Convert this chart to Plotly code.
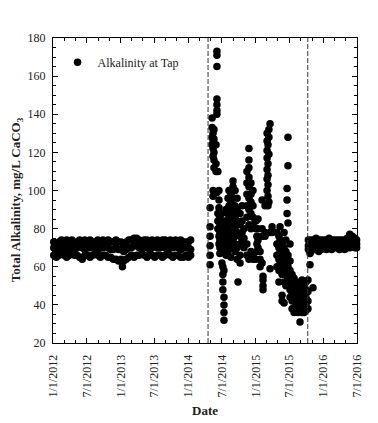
import plotly.graph_objects as go

# ---------------- data ----------------
# Period 1 (before first dashed line): sampling dates and readings (low / mid / high of the band)
p1_dates = ["2012-01-05","2012-01-19","2012-02-02","2012-02-16","2012-03-01","2012-03-15","2012-03-29",
            "2012-04-12","2012-04-26","2012-05-10","2012-05-24","2012-06-07","2012-06-21","2012-07-05",
            "2012-07-19","2012-08-02","2012-08-16","2012-08-30","2012-09-13","2012-09-27","2012-10-11",
            "2012-10-25","2012-11-08","2012-11-22","2012-12-06","2012-12-20",
            "2013-01-03","2013-01-17","2013-01-31","2013-02-14","2013-02-28","2013-03-14","2013-03-28",
            "2013-04-11","2013-04-25","2013-05-09","2013-05-23","2013-06-06","2013-06-20","2013-07-04",
            "2013-07-18","2013-08-01","2013-08-15","2013-08-29","2013-09-12","2013-09-26","2013-10-10",
            "2013-10-24","2013-11-07","2013-11-21","2013-12-05","2013-12-19",
            "2014-01-02","2014-01-14"]
p1_low = [66,65,66,67,66,65,66,67,66,66,65,64,66,66,65,66,67,66,65,66,66,65,65,64,64,63,
          64,63,64,65,66,65,66,66,67,66,65,66,66,65,66,66,65,66,67,66,65,66,66,65,65,66,
          65,66]
p1_mid = [70,69,70,71,70,69,70,70,69,70,71,70,69,70,70,71,70,69,70,70,71,70,69,69,70,69,
          69,68,69,70,70,71,71,70,70,71,70,69,70,71,70,70,71,70,69,70,70,71,70,69,70,70,
          70,69]
p1_high = [73,72,73,74,73,74,73,74,73,73,74,73,74,73,74,73,73,74,73,74,73,74,73,73,74,73,
           73,72,73,74,74,75,75,74,73,74,74,73,74,73,74,73,74,74,73,74,73,74,73,74,73,73,
           73,74]
p1_extra_dates = ["2013-01-10"]
p1_extra_vals = [60]

# Period 2 (between dashed lines): scattered readings grouped by sampling date
p2_dates = ["2014-04-29","2014-05-10","2014-05-15","2014-05-20","2014-05-31","2014-06-05","2014-06-10",
            "2014-06-16","2014-06-21","2014-07-02","2014-07-07","2014-07-13","2014-07-18","2014-07-24",
            "2014-08-04","2014-08-09","2014-08-20","2014-08-31","2014-09-11","2014-09-22","2014-09-27",
            "2014-10-08","2014-10-19","2014-10-29","2014-11-14","2014-11-25","2014-12-06","2014-12-17",
            "2015-01-02","2015-01-07","2015-01-13","2015-01-24","2015-02-04","2015-02-09","2015-02-20",
            "2015-03-03","2015-03-08","2015-03-13","2015-03-19","2015-03-30","2015-04-25","2015-05-06",
            "2015-05-12","2015-05-23","2015-06-03","2015-06-13","2015-06-19","2015-06-24","2015-07-05",
            "2015-07-16","2015-07-27","2015-08-06","2015-08-17","2015-08-28","2015-09-08","2015-09-19",
            "2015-09-29","2015-10-10","2015-10-21","2015-11-06"]
p2_vals = [[91,81,76,71,66,61],
           [138,133,128,124],
           [130,126,122,118,100,97],
           [132,127,120,116,112],
           [124,114,110],
           [173,171,165,148,145,142,140,99],
           [110,88,84,80],
           [100,95,91,76,72],
           [86,82,78,74,70,67],
           [88,80,76,72,69,62],
           [60,56,52,48],
           [58,44,40,36,32],
           [84,78,74],
           [90,82,76,70,66],
           [96,88,84,80,74,68],
           [100,92,86,78,72],
           [98,94,90,84,76,70,65],
           [105,102,96,88,82,78,74],
           [100,92,86,80,76,72,68],
           [96,90,84,78,70,64],
           [52],
           [88,82,76,72,66,62],
           [92,84,78,74],
           [80,75,70],
           [110,104,98,92,86,72,66],
           [122,116,112,107,102,96,90,82,64],
           [104,98,94,88,80,68],
           [100,92,86,82,66,64],
           [84,80,64],
           [76,72,68],
           [85,80,74,70],
           [68,64,60],
           [95,80,76,62],
           [55,53,50,48],
           [92,78,76],
           [130,126,121,117,111,106,100],
           [124,114,108,103,97,92],
           [132,128,119,94],
           [135,78,59],
           [81,78],
           [78,72,66,60],
           [76,70,64,58,52],
           [81,74,68,62],
           [72,66,60,56,45,42],
           [78,70,64,58,52,41],
           [74,68,62,56,50],
           [101,95,88],
           [128,113,83,66,60,54],
           [72,63,58,52,48,44],
           [56,50,46,42,38],
           [54,50,46,42,38,36],
           [52,48,44,40,37],
           [50,46,42,38,36],
           [52,48,44,40,37,31],
           [53,48,44,40,36],
           [50,46,42,38,36],
           [52,48,44,40,37],
           [53,47,42,38],
           [67,61],
           [49]]

# Period 3 (after second dashed line)
p3_dates = ["2015-10-12","2015-10-26","2015-11-09","2015-11-23","2015-12-07","2015-12-21","2016-01-04",
            "2016-01-18","2016-02-01","2016-02-15","2016-02-29","2016-03-14","2016-03-28","2016-04-11",
            "2016-04-25","2016-05-09","2016-05-23","2016-06-06","2016-06-20","2016-06-29"]
p3_low = [69,68,69,70,68,69,70,69,70,69,70,70,69,70,69,70,70,71,70,70]
p3_mid = [71,71,72,71,71,72,71,72,71,72,71,72,71,72,72,72,73,73,72,72]
p3_high = [74,74,74,75,74,74,74,74,75,74,74,74,74,74,74,75,77,76,75,74]

# Dashed event lines
event_dates = ["2014-04-18", "2015-10-09"]

# Axis ticks
x_tickvals = ["2012-01-01","2012-07-01","2013-01-01","2013-07-01","2014-01-01",
              "2014-07-01","2015-01-01","2015-07-01","2016-01-01","2016-07-01"]
x_ticktext = ["1/1/2012","7/1/2012","1/1/2013","7/1/2013","1/1/2014",
              "7/1/2014","1/1/2015","7/1/2015","1/1/2016","7/1/2016"]

# ---------------- assemble ----------------
xs, ys = [], []
for vals in (p1_low, p1_mid, p1_high):
    xs += p1_dates
    ys += vals
xs += p1_extra_dates
ys += p1_extra_vals
for d, vals in zip(p2_dates, p2_vals):
    xs += [d] * len(vals)
    ys += vals
for vals in (p3_low, p3_mid, p3_high):
    xs += p3_dates
    ys += vals

SERIF = "Liberation Serif, Times New Roman, serif"

fig = go.Figure()
fig.add_trace(go.Scatter(
    x=xs, y=ys, mode="markers", name="Alkalinity at Tap",
    marker=dict(color="black", size=7.5, line=dict(width=0)),
    cliponaxis=False,
))

for d in event_dates:
    fig.add_shape(type="line", xref="x", yref="paper", x0=d, x1=d, y0=0, y1=1,
                  line=dict(color="#333333", width=1, dash="5px,2px"))

fig.update_layout(
    width=370, height=415,
    margin=dict(l=45, r=21, t=30, b=80),
    paper_bgcolor="white", plot_bgcolor="white",
    font=dict(family=SERIF, size=12, color="#222222"),
    showlegend=True,
    legend=dict(x=0.015, y=0.968, xanchor="left", yanchor="top",
                bgcolor="rgba(0,0,0,0)", font=dict(family=SERIF, size=12, color="#222222")),
    xaxis=dict(
        type="date", range=["2012-01-01", "2016-07-01"],
        tickmode="array", tickvals=x_tickvals, ticktext=x_ticktext,
        tickangle=-90, ticks="inside", ticklen=5, tickcolor="black", tickwidth=1,
        ticklabelstandoff=6,
        showline=True, linecolor="black", linewidth=1, mirror="ticks",
        showgrid=False, zeroline=False,
        minor=dict(dtick="M2", tick0="2012-01-01", ticks="inside", ticklen=3,
                   tickcolor="black", tickwidth=1, showgrid=False),
        tickfont=dict(family=SERIF, size=12, color="#222222"),
    ),
    yaxis=dict(
        range=[20, 180], dtick=20, tick0=20,
        ticks="inside", ticklen=5, tickcolor="black", tickwidth=1,
        ticklabelstandoff=4,
        showline=True, linecolor="black", linewidth=1, mirror="ticks",
        showgrid=False, zeroline=False,
        minor=dict(dtick=5, ticks="inside", ticklen=3, tickcolor="black",
                   tickwidth=1, showgrid=False),
        tickfont=dict(family=SERIF, size=12, color="#222222"),
    ),
    annotations=[
        dict(text="<b>Total Alkalinity, mg/L CaCO<sub>3</sub></b>", textangle=-90,
             xref="paper", yref="paper", x=-0.12, y=0.47, xanchor="center", yanchor="middle",
             showarrow=False, font=dict(family=SERIF, size=13, color="#222222")),
        dict(text="<b>Date</b>", xref="paper", yref="paper", x=0.5, y=-0.22,
             xanchor="center", yanchor="middle", showarrow=False,
             font=dict(family=SERIF, size=13, color="#222222")),
    ],
)

fig.write_html("out.html")
